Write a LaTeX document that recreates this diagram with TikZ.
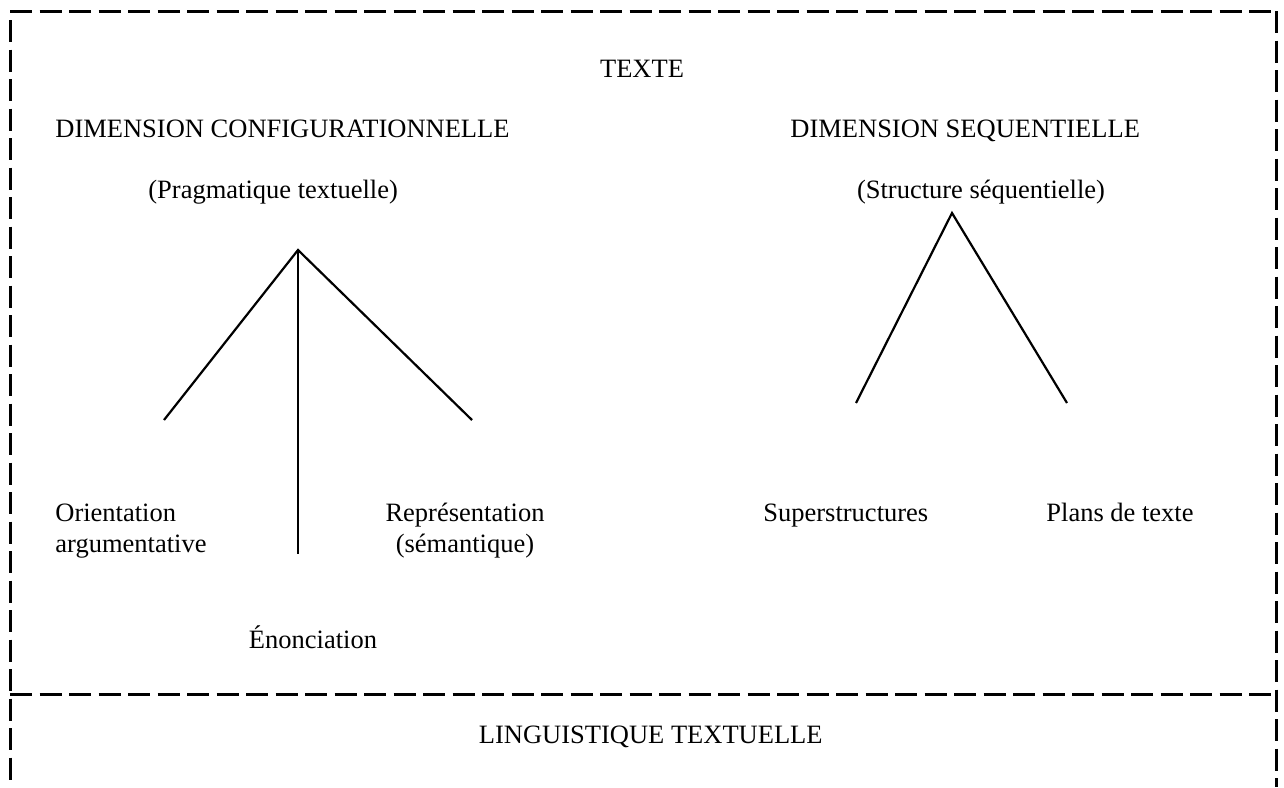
\documentclass[tikz,border=0pt]{standalone}
\usepackage{fontspec}
\setmainfont{Liberation Serif}
\begin{document}
\begin{tikzpicture}[x=0.5pt,y=-0.5pt,
  lbl/.style={inner sep=0pt, font=\fontsize{13.25}{15.5}\selectfont},
  frame/.style={line width=1.5pt, dash pattern=on 11pt off 3.75pt},
  branch/.style={line width=1.1pt, line cap=butt}]
\useasboundingbox (0,0) rectangle (1284,787);

% frame
\coordinate (tl) at (10,11);
\coordinate (tr) at (1276,11);
\coordinate (ls) at (10,20);
\coordinate (lb) at (10,787);
\coordinate (rb) at (1276,787);
\coordinate (dl) at (10,694);
\coordinate (dr) at (1276,694);
\draw[frame] (tl) -- (tr);
\draw[frame] (ls) -- (lb);
\draw[frame] (tr) -- (rb);
\draw[frame] (dl) -- (dr);

% texts
\node[lbl, anchor=base] (texte) at (642,77) {TEXTE};
\node[lbl, anchor=base west] (dimconf) at (55,137) {DIMENSION CONFIGURATIONNELLE};
\node[lbl, anchor=base west] (dimseq) at (790,137) {DIMENSION SEQUENTIELLE};
\node[lbl, anchor=base west] (prag) at (148,198) {(Pragmatique textuelle)};
\node[lbl, anchor=base] (struct) at (981,198) {(Structure séquentielle)};
\node[lbl, anchor=base west, align=left] (orient) at (55,552) {Orientation\\argumentative};
\node[lbl, anchor=base, align=center] (repr) at (465,552) {Représentation\\(sémantique)};
\node[lbl, anchor=base] (enon) at (313,648) {Énonciation};
\node[lbl, anchor=base west] (super) at (763,521) {Superstructures};
\node[lbl, anchor=base west] (plans) at (1046,521) {Plans de texte};
\node[lbl, anchor=base east] (ling) at (823,743) {LINGUISTIQUE TEXTUELLE};

% left tree
\coordinate (la) at (298,250);
\coordinate (ll) at (164,420);
\coordinate (lr) at (472,420);
\coordinate (lm) at (298,554);
\draw[branch] (ll) -- (la) -- (lr);
\draw[branch] (la) -- (lm);

% right tree
\coordinate (ra) at (952,213);
\coordinate (rl) at (856,403);
\coordinate (rr) at (1067,403);
\draw[branch] (rl) -- (ra) -- (rr);
\end{tikzpicture}
\end{document}
